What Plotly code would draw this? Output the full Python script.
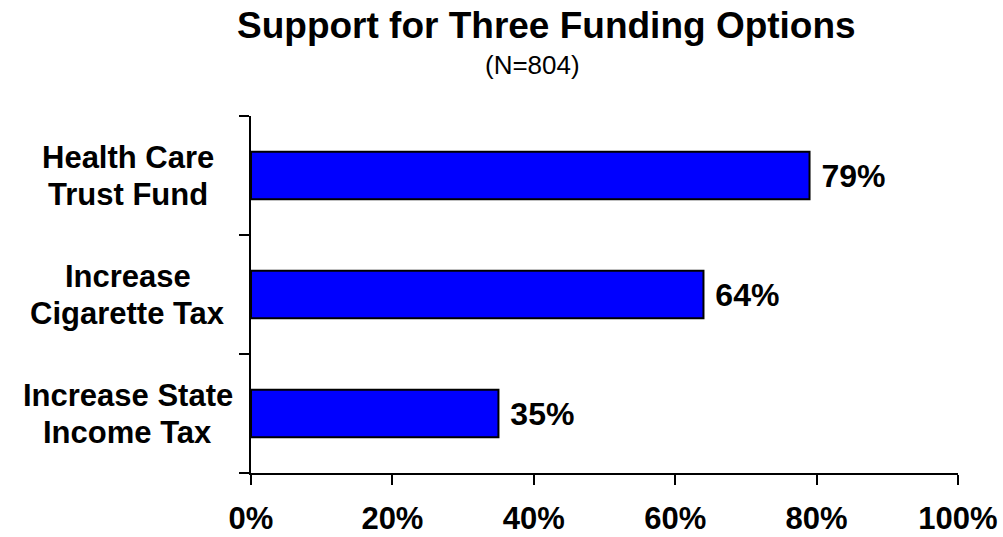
import plotly.graph_objects as go

categories = ["Increase State<br>Income Tax", "Increase<br>Cigarette Tax", "Health Care<br>Trust Fund"]
support_pct = [35, 64, 79]
x_ticks = [0, 20, 40, 60, 80, 100]
x_tick_labels = ["0%", "20%", "40%", "60%", "80%", "100%"]

FONT = "Arial, Liberation Sans, sans-serif"
W, H = 1003, 537
M_L, M_R, M_T, M_B = 251, 45, 116, 64
PLOT_W = W - M_L - M_R
PLOT_H = H - M_T - M_B
LINE_GAP = 37  # baseline spacing of the two-line category labels


def px_to_paper_x(px):
    return (px - M_L) / PLOT_W


def px_to_paper_y(py):
    return 1 + (M_T - py) / PLOT_H


fig = go.Figure(
    go.Bar(
        x=support_pct,
        y=categories,
        orientation="h",
        marker=dict(color="#0000FF", line=dict(color="black", width=2)),
        text=[f" {v}%" for v in support_pct],
        textposition="outside",
        textfont=dict(family=FONT, size=32, color="black", weight="bold"),
        cliponaxis=False,
    )
)

annotations = [
    dict(text="<b>Support for Three Funding Options</b>", xref="paper", yref="paper",
         x=px_to_paper_x(546), y=px_to_paper_y(25), xanchor="center", yanchor="middle",
         showarrow=False, font=dict(size=37, family=FONT, color="black")),
    dict(text="(N=804)", xref="paper", yref="paper",
         x=px_to_paper_x(532), y=px_to_paper_y(65), xanchor="center", yanchor="middle",
         showarrow=False, font=dict(size=26, family=FONT, color="black")),
]
# centred two-line category labels left of the axis, one annotation per line
for cat in categories:
    lines = cat.split("<br>")
    for i, line in enumerate(lines):
        shift = (len(lines) - 1) / 2 * LINE_GAP - i * LINE_GAP
        annotations.append(dict(
            text=f"<b>{line}</b>", xref="paper", yref="y", x=px_to_paper_x(128), y=cat,
            xanchor="center", yanchor="middle", yshift=shift, showarrow=False,
            font=dict(size=31, family=FONT, color="black"),
        ))

fig.update_layout(
    width=W,
    height=H,
    margin=dict(l=M_L, r=M_R, t=M_T, b=M_B, autoexpand=False),
    plot_bgcolor="white",
    paper_bgcolor="white",
    bargap=0.6,
    showlegend=False,
    font=dict(family=FONT, color="black"),
    annotations=annotations,
)

fig.update_xaxes(
    range=[0, 100],
    tickvals=x_ticks,
    ticktext=x_tick_labels,
    ticks="outside",
    ticklen=10,
    tickwidth=2,
    tickcolor="black",
    showline=True,
    linecolor="black",
    linewidth=2,
    showgrid=False,
    zeroline=False,
    automargin=False,
    tickfont=dict(family=FONT, size=31, color="black", weight="bold"),
    ticklabelstandoff=7,
)
fig.update_yaxes(
    tickson="boundaries",
    ticks="outside",
    ticklen=10,
    tickwidth=2,
    tickcolor="black",
    showline=True,
    linecolor="black",
    linewidth=2,
    showgrid=False,
    automargin=False,
    showticklabels=False,
)

fig.write_html("out.html")
